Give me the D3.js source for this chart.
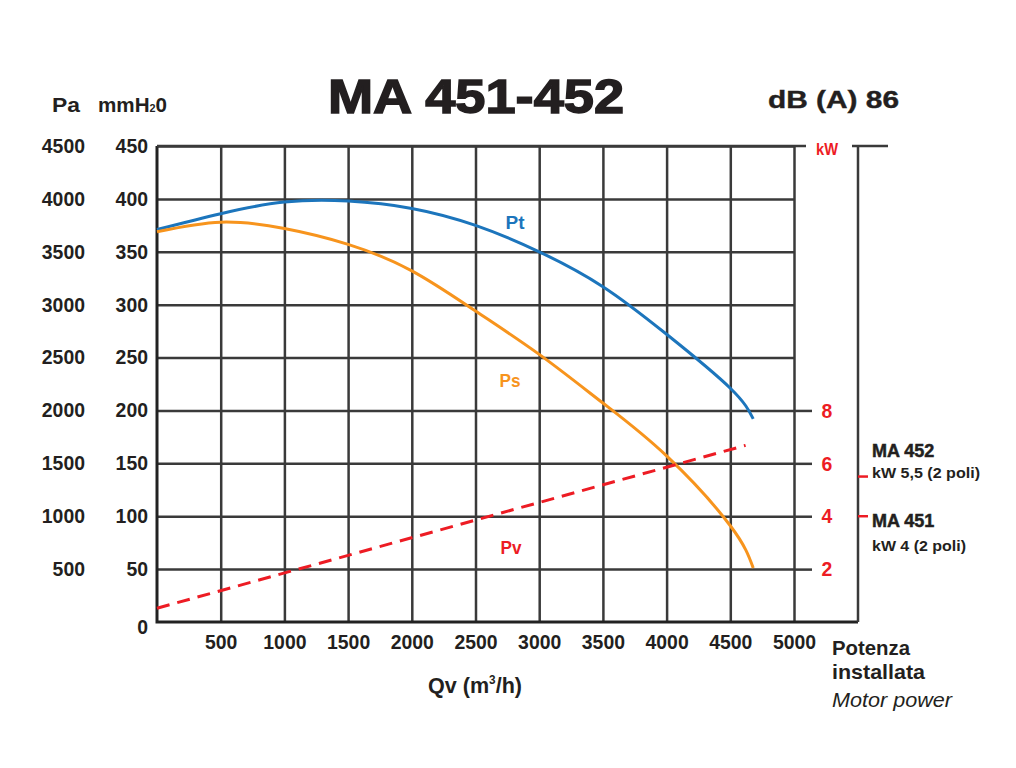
<!DOCTYPE html>
<html>
<head>
<meta charset="utf-8">
<script src="https://cdn.jsdelivr.net/npm/d3@7"></script>
<style>
  html, body { margin: 0; padding: 0; background: #fff; }
  svg { display: block; }
  .cond { font-family: "Liberation Sans", Arial, sans-serif; font-weight: bold; }
</style>
</head>
<body>
<svg id="chart" width="1016" height="768"></svg>
<script>
// ---- Data ----
const flowTicks = [500, 1000, 1500, 2000, 2500, 3000, 3500, 4000, 4500, 5000];
const mmTicks = [0, 50, 100, 150, 200, 250, 300, 350, 400, 450];
const paTicks = [500, 1000, 1500, 2000, 2500, 3000, 3500, 4000, 4500];
const kwTicks = [2, 4, 6, 8];
const flow = [0, 500, 1000, 1500, 2000, 2500, 3000, 3500, 4000, 4500, 4680];
const ptValues = [371, 386, 397, 398, 391, 375, 350, 317, 272, 221, 192];
const psValues = [369, 378, 372, 357, 332, 294, 253, 207, 157, 91, 51];
const pvFlow = [0, 4620];
const pvValues = [13, 167];
const motorLabels = [
  { name: "MA 452", sub: "kW 5,5 (2 poli)", kw: 5.5 },
  { name: "MA 451", sub: "kW 4 (2 poli)", kw: 4 }
];

// ---- Layout ----
const svg = d3.select("#chart");
const X0 = 157, X1 = 794, Y0 = 622, Y1 = 146, XR = 858;
const x = d3.scaleLinear().domain([0, 5000]).range([X0, X1]);
const y = d3.scaleLinear().domain([0, 450]).range([Y0, Y1]);
const yPa = d3.scaleLinear().domain([0, 4500]).range([Y0, Y1]);
const yKw = d3.scaleLinear().domain([0, 18]).range([Y0, Y1]);

const textCol = "#231f20";
const gridCol = "#3a3a3a";
const red = "#ed1c24";
const fmt = d3.format("d");
const CW = 10.8; // condensed digit width

function condense(sel, cw) {
  sel.each(function () {
    const t = d3.select(this);
    t.attr("textLength", t.text().length * cw).attr("lengthAdjust", "spacingAndGlyphs");
  });
}

// Grid - horizontal
const gh = svg.append("g").attr("transform", `translate(${X0},0)`)
  .call(d3.axisLeft(y).tickValues(mmTicks.slice(1)).tickSize(-(X1 - X0)).tickFormat(""));
gh.select(".domain").remove();
gh.selectAll("line").attr("stroke", gridCol).attr("stroke-width", 2.5);

// Grid - vertical
const gv = svg.append("g").attr("transform", `translate(0,${Y0})`)
  .call(d3.axisBottom(x).tickValues(flowTicks).tickSize(-(Y0 - Y1)).tickFormat(""));
gv.select(".domain").remove();
gv.selectAll("line").attr("stroke", gridCol).attr("stroke-width", 2.5);

// Frame
svg.append("path")
  .attr("d", `M${X0},${Y1}V${Y0}H${XR}`)
  .attr("fill", "none").attr("stroke", "#222").attr("stroke-width", 3);
svg.append("line").attr("x1", X0).attr("x2", X1 + 12).attr("y1", Y1).attr("y2", Y1)
  .attr("stroke", gridCol).attr("stroke-width", 2.5);
svg.append("line").attr("x1", XR).attr("x2", XR).attr("y1", Y1).attr("y2", Y0)
  .attr("stroke", gridCol).attr("stroke-width", 2.5);
svg.append("line").attr("x1", XR - 6).attr("x2", XR + 30).attr("y1", Y1).attr("y2", Y1)
  .attr("stroke", gridCol).attr("stroke-width", 2.5);

// kW axis (right)
const gk = svg.append("g").attr("transform", `translate(${X1},0)`)
  .call(d3.axisRight(yKw).tickValues(kwTicks).tickSize(18).tickPadding(10).tickFormat(fmt));
gk.select(".domain").remove();
gk.selectAll("line").attr("stroke", gridCol).attr("stroke-width", 2.5);
gk.selectAll("text").attr("class", "cond").attr("fill", red).attr("font-size", 21)
  .attr("x", 33).attr("text-anchor", "middle").call(condense, CW);
svg.append("text").attr("class", "cond").attr("x", 827).attr("y", 155)
  .attr("text-anchor", "middle").attr("fill", red).attr("font-size", 17)
  .attr("textLength", 22).attr("lengthAdjust", "spacingAndGlyphs").text("kW");

// Left axes labels
const gm = svg.append("g").attr("transform", `translate(148,0)`)
  .call(d3.axisLeft(y).tickValues(mmTicks).tickSize(0).tickPadding(0).tickFormat(fmt));
gm.select(".domain").remove();
gm.selectAll("text").attr("class", "cond").attr("fill", textCol).attr("font-size", 20).call(condense, CW);
gm.selectAll(".tick").filter(d => d === 0).select("text").attr("dy", "0.55em");

const gp = svg.append("g").attr("transform", `translate(85,0)`)
  .call(d3.axisLeft(yPa).tickValues(paTicks).tickSize(0).tickPadding(0).tickFormat(fmt));
gp.select(".domain").remove();
gp.selectAll("text").attr("class", "cond").attr("fill", textCol).attr("font-size", 20).call(condense, CW);

// Bottom axis labels
const gb = svg.append("g").attr("transform", `translate(0,${Y0 + 13})`)
  .call(d3.axisBottom(x).tickValues(flowTicks).tickSize(0).tickPadding(0).tickFormat(fmt));
gb.select(".domain").remove();
gb.selectAll("text").attr("class", "cond").attr("fill", textCol).attr("font-size", 20).call(condense, CW);

// Curves
const line = d3.line().x(d => x(d[0])).y(d => y(d[1])).curve(d3.curveNatural);
svg.append("path").datum(flow.map((f, i) => [f, ptValues[i]]))
  .attr("d", line).attr("fill", "none").attr("stroke", "#1c75bc").attr("stroke-width", 3);
svg.append("path").datum(flow.map((f, i) => [f, psValues[i]]))
  .attr("d", line).attr("fill", "none").attr("stroke", "#f7941d").attr("stroke-width", 3);
svg.append("path").datum(pvFlow.map((f, i) => [f, pvValues[i]]))
  .attr("d", d3.line().x(d => x(d[0])).y(d => y(d[1])))
  .attr("fill", "none").attr("stroke", red).attr("stroke-width", 3)
  .attr("stroke-dasharray", "13,8");

// Curve labels
svg.append("text").attr("class", "cond").attr("x", 515).attr("y", 229).attr("text-anchor", "middle")
  .attr("fill", "#1c75bc").attr("font-size", 19).attr("textLength", 19).attr("lengthAdjust", "spacingAndGlyphs").text("Pt");
svg.append("text").attr("class", "cond").attr("x", 510).attr("y", 387).attr("text-anchor", "middle")
  .attr("fill", "#f7941d").attr("font-size", 19).attr("textLength", 21).attr("lengthAdjust", "spacingAndGlyphs").text("Ps");
svg.append("text").attr("class", "cond").attr("x", 511).attr("y", 554).attr("text-anchor", "middle")
  .attr("fill", red).attr("font-size", 19).attr("textLength", 21).attr("lengthAdjust", "spacingAndGlyphs").text("Pv");

// Motor labels
motorLabels.forEach(m => {
  const yy = yKw(m.kw);
  svg.append("line").attr("x1", XR).attr("x2", XR + 10).attr("y1", yy).attr("y2", yy)
    .attr("stroke", red).attr("stroke-width", 2.5);
});
const lbl = svg.append("g");
lbl.append("text").attr("x", 872).attr("y", 457).attr("font-family", "Liberation Sans, Arial, sans-serif")
  .attr("font-weight", "bold").attr("font-size", 18).attr("fill", textCol)
  .attr("stroke", textCol).attr("stroke-width", 0.5).text(motorLabels[0].name);
lbl.append("text").attr("class", "cond").attr("x", 872).attr("y", 478).attr("font-size", 15)
  .attr("fill", textCol).attr("textLength", 108).attr("lengthAdjust", "spacingAndGlyphs").text(motorLabels[0].sub);
lbl.append("text").attr("x", 872).attr("y", 527).attr("font-family", "Liberation Sans, Arial, sans-serif")
  .attr("font-weight", "bold").attr("font-size", 18).attr("fill", textCol)
  .attr("stroke", textCol).attr("stroke-width", 0.5).text(motorLabels[1].name);
lbl.append("text").attr("class", "cond").attr("x", 872).attr("y", 551).attr("font-size", 15)
  .attr("fill", textCol).attr("textLength", 94).attr("lengthAdjust", "spacingAndGlyphs").text(motorLabels[1].sub);

// Titles
svg.append("text").attr("x", 328).attr("y", 113)
  .attr("font-family", "Liberation Sans, Arial, sans-serif").attr("font-weight", "900")
  .attr("font-size", 49).attr("fill", textCol).attr("textLength", 296).attr("lengthAdjust", "spacingAndGlyphs")
  .attr("stroke", textCol).attr("stroke-width", 1.5)
  .text("MA 451-452");
svg.append("text").attr("x", 768).attr("y", 108)
  .attr("font-family", "Liberation Sans, Arial, sans-serif").attr("font-weight", "bold")
  .attr("font-size", 24).attr("fill", textCol).attr("textLength", 131).attr("lengthAdjust", "spacingAndGlyphs")
  .attr("stroke", textCol).attr("stroke-width", 0.4)
  .text("dB (A) 86");
svg.append("text").attr("class", "cond").attr("x", 52).attr("y", 112).attr("font-size", 21)
  .attr("fill", textCol).attr("textLength", 28).attr("lengthAdjust", "spacingAndGlyphs").text("Pa");
const mm = svg.append("text").attr("class", "cond").attr("x", 98).attr("y", 112).attr("font-size", 21)
  .attr("fill", textCol).attr("textLength", 69).attr("lengthAdjust", "spacingAndGlyphs");
mm.append("tspan").text("mmH");
mm.append("tspan").attr("font-size", 11).text("2");
mm.append("tspan").text("0");

// Axis titles
const qv = svg.append("text").attr("class", "cond").attr("x", 475).attr("y", 693).attr("text-anchor", "middle")
  .attr("font-size", 22).attr("fill", textCol).attr("textLength", 94).attr("lengthAdjust", "spacingAndGlyphs");
qv.append("tspan").text("Qv (m");
qv.append("tspan").attr("font-size", 12).attr("dy", -9).text("3");
qv.append("tspan").attr("dy", 9).text("/h)");

svg.append("text").attr("class", "cond").attr("x", 832).attr("y", 655).attr("font-size", 21)
  .attr("fill", textCol).attr("textLength", 78).attr("lengthAdjust", "spacingAndGlyphs").text("Potenza");
svg.append("text").attr("class", "cond").attr("x", 832).attr("y", 679).attr("font-size", 21)
  .attr("fill", textCol).attr("textLength", 93).attr("lengthAdjust", "spacingAndGlyphs").text("installata");
svg.append("text").attr("x", 832).attr("y", 707).attr("font-size", 21)
  .attr("font-family", "Liberation Sans, Arial, sans-serif").attr("font-style", "italic")
  .attr("fill", textCol).attr("textLength", 120).attr("lengthAdjust", "spacingAndGlyphs").text("Motor power");
</script>
</body>
</html>
